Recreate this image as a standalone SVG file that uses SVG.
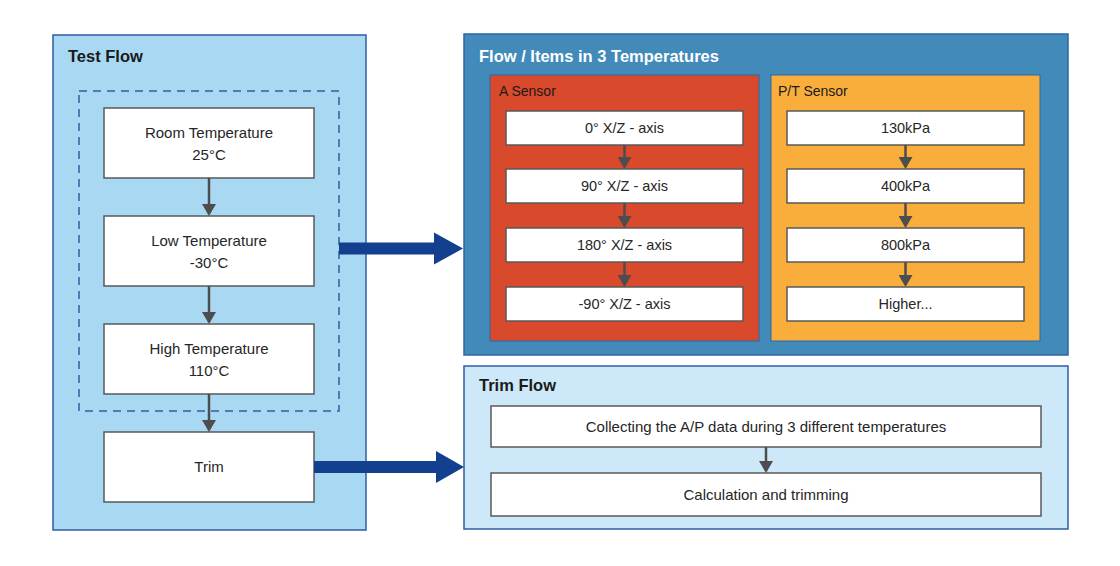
<svg xmlns="http://www.w3.org/2000/svg" width="1120" height="566" viewBox="0 0 1120 566">
  <style>
    text { font-family: "Liberation Sans", Arial, sans-serif; }
    .node { fill: #ffffff; stroke: #595959; stroke-width: 1.5; }
    .lbl { font-size: 14.5px; fill: #262626; text-anchor: middle; }
    .lbl2 { font-size: 15px; fill: #262626; text-anchor: middle; }
    .title { font-size: 16.5px; font-weight: bold; fill: #1a1a1a; }
    .stitle { font-size: 14px; fill: #1a1a1a; }
    .conn { stroke: #4d4d4d; stroke-width: 2.5; fill: none; marker-end: url(#ah); }
    .big { fill: #12408f; }
  </style>
  <defs>
    <marker id="ah" markerUnits="userSpaceOnUse" markerWidth="12" markerHeight="14" viewBox="0 0 12 14" refX="10" refY="7" orient="auto">
      <path d="M0,0 L12,7 L0,14 z" fill="#4d4d4d"/>
    </marker>
  </defs>

  <rect width="1120" height="566" fill="#ffffff"/>

  <!-- Panels -->
  <g id="test-flow">
    <rect x="53" y="35" width="313" height="495" fill="#a9d9f2" stroke="#2f5da3" stroke-width="1.5"/>
    <text class="title" x="68" y="62">Test Flow</text>
    <rect x="79" y="91" width="260" height="320" fill="none" stroke="#2f5da3" stroke-width="1.5" stroke-dasharray="8,6"/>
  </g>

  <g id="items-panel">
    <rect x="464" y="34" width="604" height="321" fill="#418ab9" stroke="#2e66a4" stroke-width="1.5"/>
    <text class="title" x="479" y="62" style="fill:#ffffff">Flow / Items in 3 Temperatures</text>
  </g>

  <g id="a-sensor">
    <rect x="490" y="75" width="269" height="266" fill="#d9492b" stroke="#2e66a4" stroke-width="1"/>
    <text class="stitle" x="499" y="96">A Sensor</text>
  </g>

  <g id="pt-sensor">
    <rect x="771" y="75" width="269" height="266" fill="#f9ae3b" stroke="#2e66a4" stroke-width="1"/>
    <text class="stitle" x="778" y="96">P/T Sensor</text>
  </g>

  <g id="trim-flow">
    <rect x="464" y="366" width="604" height="163" fill="#cde8f8" stroke="#2f5da3" stroke-width="1.5"/>
    <text class="title" x="479" y="391">Trim Flow</text>
  </g>

  <!-- Test flow nodes -->
  <g id="room">
    <rect class="node" x="104" y="108" width="210" height="70"/>
    <text class="lbl2" x="209" y="138">Room Temperature</text>
    <text class="lbl2" x="209" y="160">25°C</text>
  </g>
  <g id="low">
    <rect class="node" x="104" y="216" width="210" height="70"/>
    <text class="lbl2" x="209" y="246">Low Temperature</text>
    <text class="lbl2" x="209" y="268">-30°C</text>
  </g>
  <g id="high">
    <rect class="node" x="104" y="324" width="210" height="70"/>
    <text class="lbl2" x="209" y="354">High Temperature</text>
    <text class="lbl2" x="209" y="376">110°C</text>
  </g>
  <g id="trim">
    <rect class="node" x="104" y="432" width="210" height="70"/>
    <text class="lbl2" x="209" y="472">Trim</text>
  </g>

  <!-- A sensor items -->
  <g id="a0">
    <rect class="node" x="506" y="111" width="237" height="34"/>
    <text class="lbl" x="624.5" y="133">0° X/Z - axis</text>
  </g>
  <g id="a90">
    <rect class="node" x="506" y="169" width="237" height="34"/>
    <text class="lbl" x="624.5" y="191">90° X/Z - axis</text>
  </g>
  <g id="a180">
    <rect class="node" x="506" y="228" width="237" height="34"/>
    <text class="lbl" x="624.5" y="250">180° X/Z - axis</text>
  </g>
  <g id="am90">
    <rect class="node" x="506" y="287" width="237" height="34"/>
    <text class="lbl" x="624.5" y="309">-90° X/Z - axis</text>
  </g>

  <!-- P/T sensor items -->
  <g id="p130">
    <rect class="node" x="787" y="111" width="237" height="34"/>
    <text class="lbl" x="905.5" y="133">130kPa</text>
  </g>
  <g id="p400">
    <rect class="node" x="787" y="169" width="237" height="34"/>
    <text class="lbl" x="905.5" y="191">400kPa</text>
  </g>
  <g id="p800">
    <rect class="node" x="787" y="228" width="237" height="34"/>
    <text class="lbl" x="905.5" y="250">800kPa</text>
  </g>
  <g id="phigher">
    <rect class="node" x="787" y="287" width="237" height="34"/>
    <text class="lbl" x="905.5" y="309">Higher...</text>
  </g>

  <!-- Trim flow items -->
  <g id="collect">
    <rect class="node" x="491" y="406" width="550" height="41"/>
    <text class="lbl2" x="766" y="432">Collecting the A/P data during 3 different temperatures</text>
  </g>
  <g id="calc">
    <rect class="node" x="491" y="473" width="550" height="43"/>
    <text class="lbl2" x="766" y="500">Calculation and trimming</text>
  </g>

  <!-- Connectors -->
  <g id="connectors">
    <line class="conn" x1="209" y1="178" x2="209" y2="214"/>
    <line class="conn" x1="209" y1="286" x2="209" y2="322"/>
    <line class="conn" x1="209" y1="394" x2="209" y2="430"/>

    <line class="conn" x1="624.5" y1="145" x2="624.5" y2="167"/>
    <line class="conn" x1="624.5" y1="203" x2="624.5" y2="226"/>
    <line class="conn" x1="624.5" y1="262" x2="624.5" y2="285"/>

    <line class="conn" x1="905.5" y1="145" x2="905.5" y2="167"/>
    <line class="conn" x1="905.5" y1="203" x2="905.5" y2="226"/>
    <line class="conn" x1="905.5" y1="262" x2="905.5" y2="285"/>

    <line class="conn" x1="766" y1="447" x2="766" y2="471"/>

    <polygon class="big" points="339,242.5 434,242.5 434,232.5 463,248.5 434,264.5 434,254.5 339,254.5"/>
    <polygon class="big" points="314,461 436,461 436,451 464,467 436,483 436,473 314,473"/>
  </g>
</svg>
